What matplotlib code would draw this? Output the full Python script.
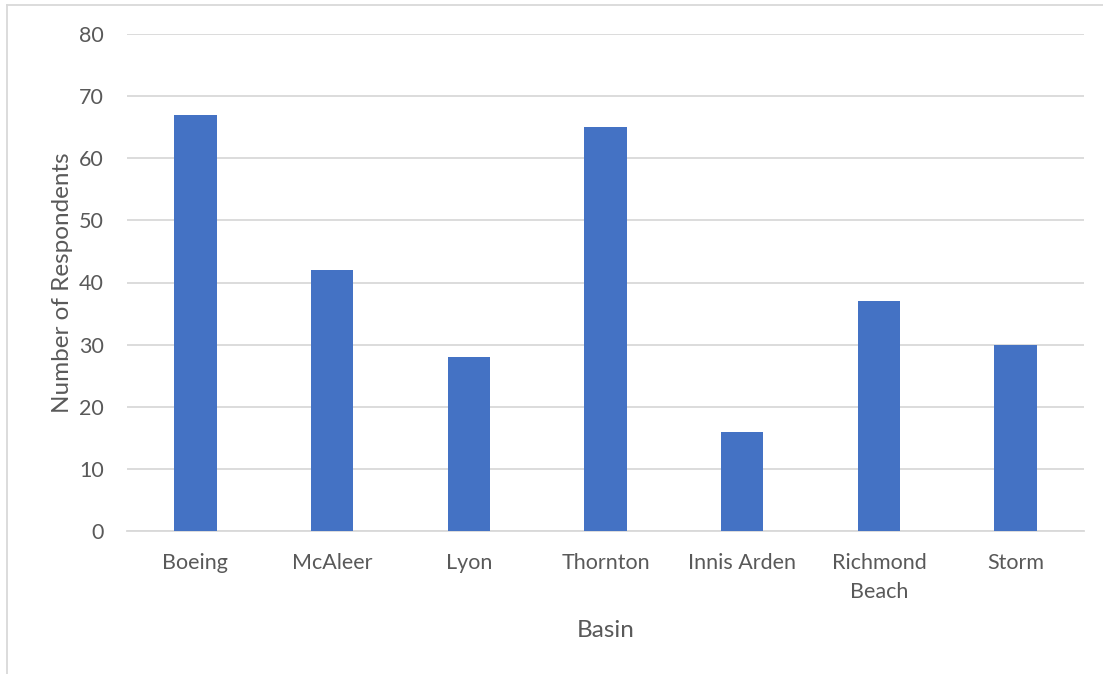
import matplotlib
matplotlib.use("Agg")
import matplotlib.pyplot as plt
from matplotlib.lines import Line2D

categories = ["Boeing", "McAleer", "Lyon", "Thornton", "Innis Arden", "Richmond\nBeach", "Storm"]
values = [67, 42, 28, 65, 16, 37, 30]
yticks = [0, 10, 20, 30, 40, 50, 60, 70, 80]

plt.rcParams['font.family'] = ['Lato', 'DejaVu Sans']
txt = '#595959'

fig = plt.figure(figsize=(11.03, 6.74), dpi=100)
ax = fig.add_axes([127/1103, 1-531/674, (1084-127)/1103, (531-34)/674])

x = range(len(categories))
ax.bar(x, values, width=0.31, color='#4472C4', zorder=3)
ax.set_xlim(-0.5, len(categories) - 0.5)
ax.set_ylim(0, 80)
ax.set_yticks(yticks)
ax.set_xticks(list(x))
ax.set_xticklabels(categories, fontsize=15.5, color=txt, linespacing=1.55)
ax.tick_params(axis='y', labelsize=15.5, labelcolor=txt, length=0, pad=16.5)
ax.tick_params(axis='x', length=0, pad=16)
ax.yaxis.grid(True, color='#D9D9D9', linewidth=1.3, zorder=0)
for s in ['top', 'right', 'left']:
    ax.spines[s].set_visible(False)
ax.spines['bottom'].set_color('#D9D9D9')
ax.spines['bottom'].set_linewidth(1.3)

ax.set_xlabel("Basin", fontsize=17.5, color=txt, labelpad=13)
ax.set_ylabel("Number of Respondents", fontsize=17.5, color=txt, labelpad=4.5)

# outer border (chart area frame)
fig.add_artist(Line2D([7/1103, 7/1103], [0, 1-5/674], transform=fig.transFigure, color='#D9D9D9', lw=1.3))
fig.add_artist(Line2D([7/1103, 1], [1-5/674, 1-5/674], transform=fig.transFigure, color='#D9D9D9', lw=1.3))

fig.savefig("out.png", dpi=100, facecolor='white')
